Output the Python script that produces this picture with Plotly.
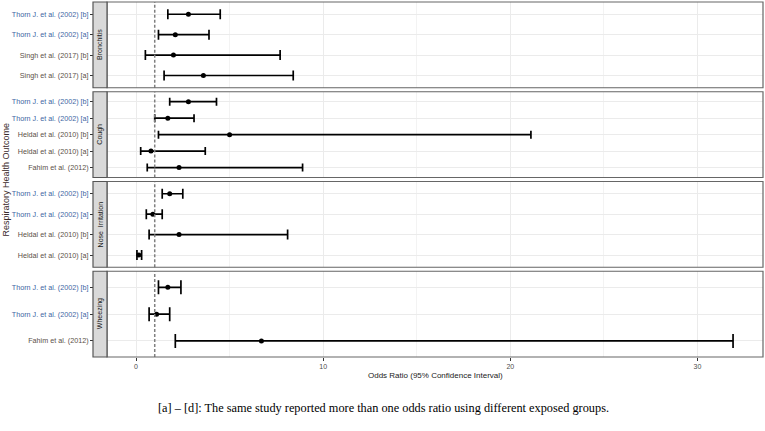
import plotly.graph_objects as go

# ---------------- data ----------------
panels = ["Bronchitis", "Cough", "Nose  Irritation", "Wheezing"]

bronchitis_studies = ["Thorn J. et al. (2002) [b]", "Thorn J. et al. (2002) [a]",
                      "Singh et al. (2017) [b]", "Singh et al. (2017) [a]"]
bronchitis_or = [2.8, 2.1, 2.0, 3.6]
bronchitis_lo = [1.7, 1.2, 0.5, 1.5]
bronchitis_hi = [4.5, 3.9, 7.7, 8.4]

cough_studies = ["Thorn J. et al. (2002) [b]", "Thorn J. et al. (2002) [a]",
                 "Heldal et al. (2010) [b]", "Heldal et al. (2010) [a]",
                 "Fahim et al. (2012)"]
cough_or = [2.8, 1.7, 5.0, 0.8, 2.3]
cough_lo = [1.8, 1.0, 1.2, 0.25, 0.6]
cough_hi = [4.3, 3.1, 21.1, 3.7, 8.9]

nose_studies = ["Thorn J. et al. (2002) [b]", "Thorn J. et al. (2002) [a]",
                "Heldal et al. (2010) [b]", "Heldal et al. (2010) [a]"]
nose_or = [1.8, 0.9, 2.3, 0.15]
nose_lo = [1.4, 0.55, 0.7, 0.05]
nose_hi = [2.5, 1.4, 8.1, 0.3]

wheezing_studies = ["Thorn J. et al. (2002) [b]", "Thorn J. et al. (2002) [a]",
                    "Fahim et al. (2012)"]
wheezing_or = [1.7, 1.1, 6.7]
wheezing_lo = [1.2, 0.7, 2.1]
wheezing_hi = [2.4, 1.8, 31.9]

x_ticks = [0, 10, 20, 30]
x_minor = [5, 15, 25]
null_line = 1

# ---------------- layout helpers ----------------
W, H = 765, 431
ML, MR, MT, MB = 93, 2, 2, 74
PW = W - ML - MR
PH = H - MT - MB
strip_w = 14 / PW
x_range = [-1.55, 33.5]

g = 4 / PH
h = (1 - 3 * g) / 4
domains = [[1 - h, 1], [1 - 2 * h - g, 1 - h - g], [1 - 3 * h - 2 * g, 1 - 2 * h - 2 * g], [0, h]]

data = [
    (bronchitis_studies, bronchitis_or, bronchitis_lo, bronchitis_hi),
    (cough_studies, cough_or, cough_lo, cough_hi),
    (nose_studies, nose_or, nose_lo, nose_hi),
    (wheezing_studies, wheezing_or, wheezing_lo, wheezing_hi),
]

fig = go.Figure()
shapes = []
annotations = []


def style_label(s):
    col = "#3d66a3" if s.startswith("Thorn") else "#5a5048"
    return f'<span style="color:{col}">{s}</span>'


for i, (studies, orv, lo, hi) in enumerate(data):
    k = i + 1
    xa = "x" if k == 1 else f"x{k}"
    ya = "y" if k == 1 else f"y{k}"
    n = len(studies)
    px_per_unit = (domains[i][1] - domains[i][0]) * PH / (n + 0.2)
    fig.add_trace(go.Scatter(
        x=orv, y=studies, xaxis=xa, yaxis=ya, mode="markers",
        marker=dict(color="black", size=5),
        error_x=dict(type="data", symmetric=False,
                     array=[b - a for a, b in zip(orv, hi)],
                     arrayminus=[a - b for a, b in zip(orv, lo)],
                     color="black", thickness=1.7,
                     width=round(0.26 * px_per_unit)),
        showlegend=False, cliponaxis=False,
    ))
    last = (k == 4)
    fig.layout[f"xaxis{'' if k == 1 else k}"] = dict(
        domain=[strip_w, 1], anchor=ya, range=x_range, automargin=False,
        tickvals=x_ticks, showticklabels=last,
        ticks="outside" if last else "", ticklen=3, tickcolor="#333333",
        tickfont=dict(family="Liberation Sans, Arial", size=7, color="#4d4d4d"),
        showgrid=True, gridcolor="#ebebeb", gridwidth=1,
        minor=dict(tickvals=x_minor, showgrid=True, gridcolor="#f3f3f3", gridwidth=0.6),
        zeroline=False, showline=False,
        matches=None if k == 1 else "x",
    )
    fig.layout[f"yaxis{'' if k == 1 else k}"] = dict(
        domain=domains[i], anchor="free", position=0, automargin=False,
        type="category", categoryorder="array", categoryarray=studies,
        range=[n - 0.4, -0.6],
        tickvals=studies, ticktext=[style_label(s) for s in studies],
        ticks="outside", ticklen=3, tickcolor="#333333",
        tickfont=dict(family="Liberation Sans, Arial", size=7.2, color="#4d4d4d"),
        showgrid=True, gridcolor="#ebebeb", gridwidth=1,
        zeroline=False, showline=False,
    )
    # dashed null line
    shapes.append(dict(type="line", xref=xa, yref=f"{ya} domain",
                       x0=null_line, x1=null_line, y0=0, y1=1,
                       line=dict(color="#808080", width=1.5, dash="3px,2px"), layer="above"))
    # panel border
    shapes.append(dict(type="rect", xref="paper", yref=f"{ya} domain",
                       x0=strip_w, x1=1, y0=0, y1=1,
                       line=dict(color="#666666", width=1.2), layer="above"))
    # strip
    shapes.append(dict(type="rect", xref="paper", yref=f"{ya} domain",
                       x0=0, x1=strip_w, y0=0, y1=1,
                       fillcolor="#d9d9d9", line=dict(color="#555555", width=1.2), layer="above"))
    annotations.append(dict(xref="paper", yref=f"{ya} domain", x=strip_w / 2, y=0.5,
                            text=panels[i], textangle=-90, showarrow=False,
                            font=dict(family="Liberation Sans, Arial", size=7, color="#1a1a1a"),
                            xanchor="center", yanchor="middle"))

# axis titles and caption
annotations.append(dict(xref="paper", yref="paper", x=(strip_w + 1) / 2, y=-(375 - (H - MB)) / PH,
                        text="Odds Ratio (95% Confidence Interval)", showarrow=False,
                        font=dict(family="Liberation Sans, Arial", size=8, color="#222222"),
                        xanchor="center", yanchor="middle"))
annotations.append(dict(xref="paper", yref="paper", x=(5 - ML) / PW, y=0.5,
                        text="Respiratory Health Outcome", showarrow=False, textangle=-90,
                        font=dict(family="Liberation Sans, Arial", size=9, color="#3a2a2a"),
                        xanchor="center", yanchor="middle"))
annotations.append(dict(xref="paper", yref="paper", x=(383 - ML) / PW, y=-(408 - (H - MB)) / PH,
                        text="[a] – [d]: The same study reported more than one odds ratio using different exposed groups.",
                        showarrow=False,
                        font=dict(family="Liberation Serif, Times New Roman", size=12.3, color="#000000"),
                        xanchor="center", yanchor="middle"))

fig.update_layout(
    width=W, height=H,
    margin=dict(l=ML, r=MR, t=MT, b=MB, autoexpand=False),
    paper_bgcolor="white", plot_bgcolor="white",
    shapes=shapes, annotations=annotations,
    showlegend=False,
)

fig.write_html("out.html", config={"displayModeBar": False},
               post_script="document.body.style.margin='0';document.body.style.overflow='hidden';")
